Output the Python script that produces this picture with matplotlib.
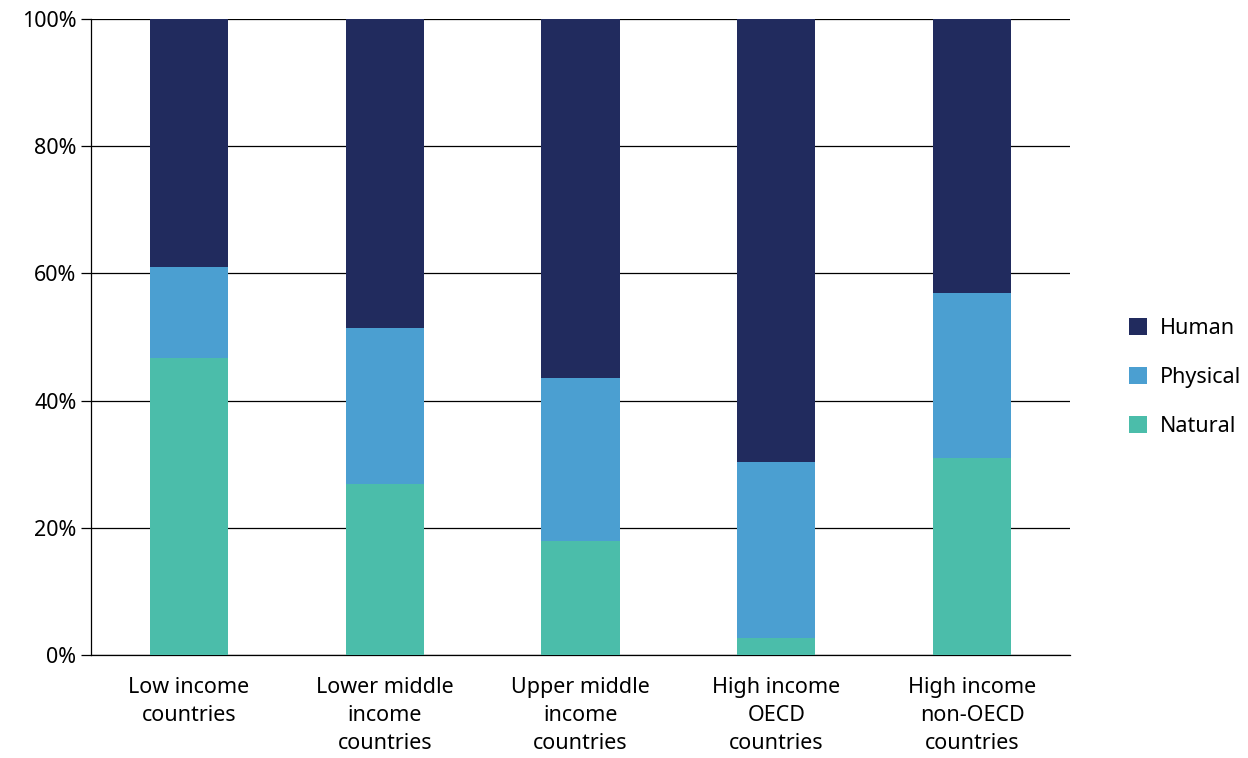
import numpy as np
import matplotlib
matplotlib.use("Agg")
import matplotlib.pyplot as plt
from matplotlib.ticker import FuncFormatter

plt.rcParams['font.family'] = ['Noto Sans', 'DejaVu Sans']

categories = ['Low income\ncountries', 'Lower middle\nincome\ncountries',
              'Upper middle\nincome\ncountries', 'High income\nOECD\ncountries',
              'High income\nnon-OECD\ncountries']
natural = [46.7, 26.9, 17.9, 2.7, 31.0]
physical = [14.3, 24.5, 25.7, 27.6, 25.9]
human = [39.0, 48.6, 56.4, 69.7, 43.1]

c_nat = '#4BBDAA'
c_phy = '#4B9FD1'
c_hum = '#212B5E'

fig = plt.figure(figsize=(12.48, 7.58), dpi=100)
ax = fig.add_axes([0.0729, 0.1359, 0.7845, 0.839])

x = np.arange(len(categories))
w = 0.4
b1 = ax.bar(x, natural, w, color=c_nat, label='Natural', zorder=3)
b2 = ax.bar(x, physical, w, bottom=natural, color=c_phy, label='Physical', zorder=3)
bot = np.array(natural) + np.array(physical)
b3 = ax.bar(x, human, w, bottom=bot, color=c_hum, label='Human', zorder=3)

ax.set_xlim(-0.5, 4.5)
ax.set_ylim(0, 100)
ax.set_yticks(np.arange(0, 101, 20))
ax.yaxis.set_major_formatter(FuncFormatter(lambda v, p: f'{int(v)}%'))
ax.grid(axis='y', color='black', linewidth=0.9, zorder=0)
for s in ['top', 'right']:
    ax.spines[s].set_visible(False)
ax.spines['left'].set_linewidth(0.9)
ax.spines['bottom'].set_linewidth(0.9)
ax.tick_params(axis='y', length=7.5, width=0.9, labelsize=15.5, pad=3)
ax.set_xticks(x)
ax.set_xticklabels(categories, fontsize=15.5, linespacing=1.42)
ax.tick_params(axis='x', length=0, pad=16)

ax.legend([b3, b2, b1], ['Human', 'Physical', 'Natural'], frameon=False,
          loc='center left', bbox_to_anchor=(1.04, 0.437), fontsize=15.5,
          handlelength=0.85, handleheight=0.85, labelspacing=1.3, handletextpad=0.6)

fig.savefig('out.png', dpi=100)
